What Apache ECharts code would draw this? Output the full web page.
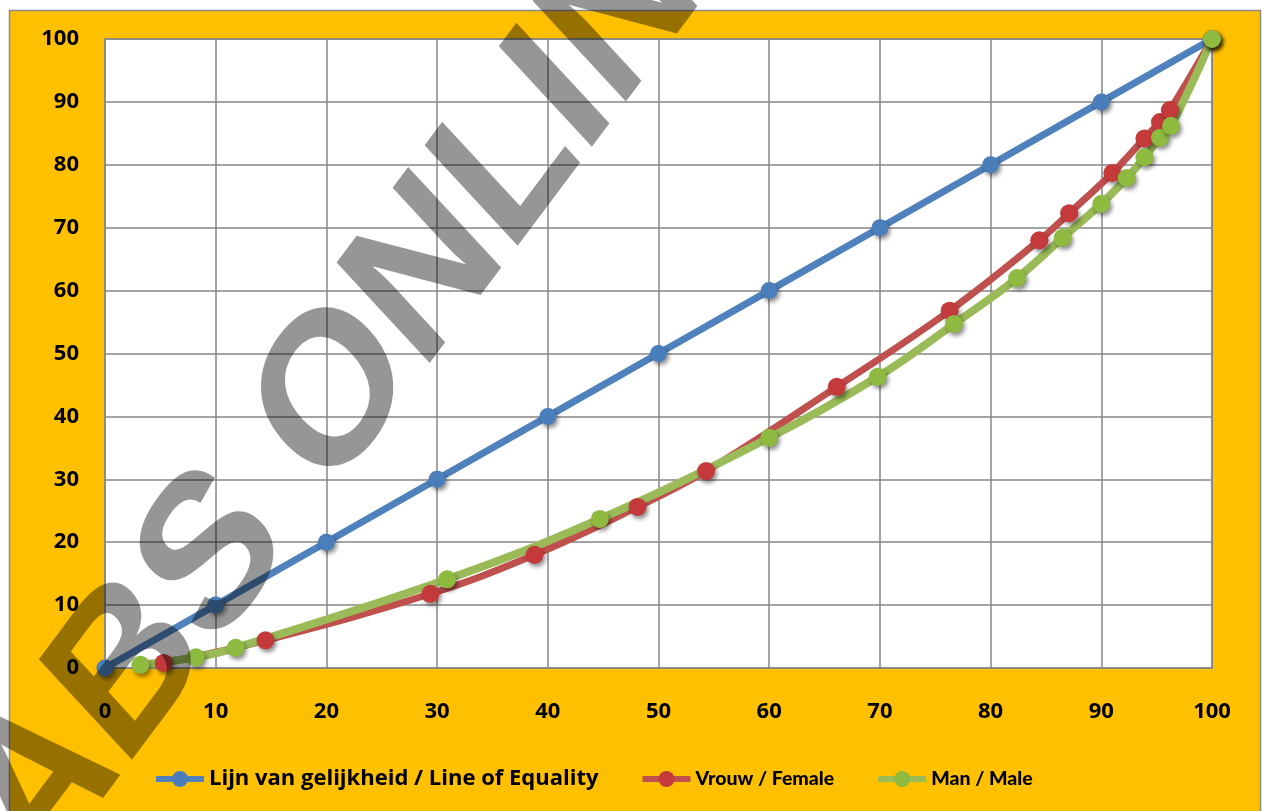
<!DOCTYPE html>
<html>
<head>
<meta charset="utf-8">
<script src="https://cdn.jsdelivr.net/npm/echarts@6/dist/echarts.min.js"></script>
<style>
  html,body{margin:0;padding:0;background:#fff;}
  .demo{width:1262px;height:811px;}
</style>
</head>
<body>
<div class="demo"></div>
<script>
const ticks = [0,10,20,30,40,50,60,70,80,90,100]
const equalityX = [0,10,20,30,40,50,60,70,80,90,100]
const equalityY = [0,10,20,30,40,50,60,70,80,90,100]
const femaleX = [5.3,14.5,29.4,38.8,48.1,54.3,66.1,76.3,84.4,87.1,91.0,93.9,95.3,96.2,100]
const femaleY = [0.8,4.4,11.8,18.0,25.6,31.3,44.7,56.8,68.0,72.3,78.7,84.2,86.8,88.7,100]
const maleX = [3.2,8.2,11.8,30.9,44.7,60.0,69.8,76.7,82.4,86.5,90.0,92.3,93.9,95.3,96.3,100]
const maleY = [0.5,1.7,3.2,14.1,23.7,36.6,46.3,54.7,62.0,68.4,73.8,77.9,81.2,84.3,86.2,100]
const names = ['Lijn van gelijkheid / Line of Equality','Vrouw / Female','Man / Male']

;(function(){
  const chartinstance = echarts.init(document.querySelector('.demo'))
  const zip = (xs,ys) => xs.map((x,i) => [x, ys[i]])
  const font = '"Open Sans", Lato, sans-serif'
  const shadow = {shadowBlur:4, shadowOffsetX:2, shadowOffsetY:3, shadowColor:'rgba(0,0,0,0.45)'}
  const axisCommon = {
    type:'value', min:0, max:100, interval:10,
    axisLine:{show:false}, axisTick:{show:false},
    splitLine:{lineStyle:{color:'#868686', width:1.5}},
    axisLabel:{color:'#000', fontWeight:'bold', fontSize:22, fontFamily:font}
  }
  const option = {
    backgroundColor:'#fff',
    animation:false,
    graphic:[
      {type:'rect', z:-10, silent:true,
        shape:{x:9.5, y:10.5, width:1251, height:810},
        style:{fill:'#FFC000', stroke:'#8a8a8a', lineWidth:1.5}},
      // watermark: rotated, then stretched vertically
      {type:'group', x:374, y:347, scaleX:1, scaleY:1.2, z:100, silent:true,
        children:[{type:'text', z:100, rotation:48*Math.PI/180,
          style:{text:'ABS ONLINE', fontSize:182, fontWeight:'bold', fontFamily:'"Liberation Sans", Arial, sans-serif',
            fill:'rgba(0,0,0,0.41)', align:'center', verticalAlign:'middle'}}]}
    ],
    grid:{
      left:105, top:39, right:50, bottom:143,
      show:true, backgroundColor:'#fff', borderColor:'#868686', borderWidth:1.5
    },
    legend:{
      left:153, top:768, padding:0,
      itemWidth:48, itemHeight:20, itemGap:41,
      lineStyle:{width:6},
      textStyle:{color:'#000', fontWeight:'bold', fontSize:22, fontFamily:font},
      data:[
        {name:names[0]},
        {name:names[1], textStyle:{fontFamily:'Lato', fontSize:19.5, fontWeight:900}},
        {name:names[2], textStyle:{fontFamily:'Lato', fontSize:19.5, fontWeight:900}}
      ]
    },
    xAxis:Object.assign({}, axisCommon, {axisLabel:Object.assign({}, axisCommon.axisLabel, {margin:33, customValues:ticks})}),
    yAxis:Object.assign({}, axisCommon, {axisLabel:Object.assign({}, axisCommon.axisLabel, {margin:26})}),
    series:[
      {
        name:names[0], type:'line',
        data:zip(equalityX, equalityY),
        symbol:'circle', symbolSize:17,
        lineStyle:{color:'#4F81BD', width:7},
        itemStyle:Object.assign({color:'#4A7EBB'}, shadow)
      },
      {
        name:names[1], type:'line', smooth:0.4,
        data:zip(femaleX, femaleY),
        symbol:'circle', symbolSize:18,
        lineStyle:{color:'#C0504D', width:7},
        itemStyle:Object.assign({color:'#C43A3A'}, shadow)
      },
      {
        name:names[2], type:'line', smooth:0.4,
        data:zip(maleX, maleY),
        symbol:'circle', symbolSize:18,
        lineStyle:{color:'#9BBB59', width:8},
        itemStyle:Object.assign({color:'#8DBA3F'}, shadow)
      }
    ]
  }
  option && chartinstance.setOption(option)
  window.addEventListener('resize',()=>{
    chartinstance.resize();
  })
})();
</script>
</body>
</html>
